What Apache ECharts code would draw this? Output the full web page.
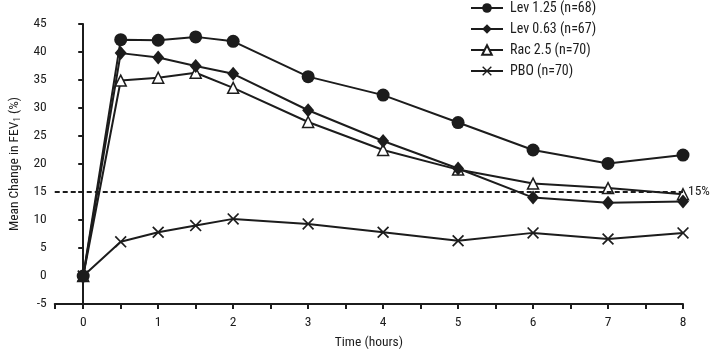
<!DOCTYPE html>
<html>
<head>
<meta charset="utf-8">
<script src="https://cdn.jsdelivr.net/npm/echarts@6/dist/echarts.min.js"></script>
<style>html,body{margin:0;padding:0;background:#fff}#c{width:716px;height:355px}</style>
</head>
<body>
<div id="c"></div>
<script>
const hours = [0, 0.5, 1, 1.5, 2, 3, 4, 5, 6, 7, 8];
const lev125 = [0, 42.2, 42.1, 42.7, 41.9, 35.6, 32.3, 27.4, 22.5, 20.1, 21.6];
const lev063 = [0, 39.8, 39.0, 37.5, 36.1, 29.6, 24.1, 19.2, 14.0, 13.1, 13.3];
const rac25  = [0, 34.9, 35.4, 36.3, 33.6, 27.5, 22.5, 19.0, 16.5, 15.7, 14.6];
const pbo    = [0, 6.1, 7.8, 9.0, 10.2, 9.3, 7.8, 6.3, 7.7, 6.6, 7.7];
const seriesNames = ['Lev 1.25 (n=68)', 'Lev 0.63 (n=67)', 'Rac 2.5 (n=70)', 'PBO (n=70)'];
const yTicks = [-5, 0, 5, 10, 15, 20, 25, 30, 35, 40, 45];
const xLabels = [0, 1, 2, 3, 4, 5, 6, 7, 8];
const xTickVals = [-0.38, 0, 0.5, 1, 1.5, 2, 2.5, 3, 3.5, 4, 4.5, 5, 5.5, 6, 6.5, 7, 7.5, 8];
const threshold = 15;

const FONT = '"Roboto Condensed", "DejaVu Sans Condensed", sans-serif';
const INK = '#1c1c1c';
const crossPath = 'path://M0,1 L1,0 L5,4 L9,0 L10,1 L6,5 L10,9 L9,10 L5,6 L1,10 L0,9 L4,5 Z';

function pairs(arr){ return hours.map((h,i)=>[h, arr[i]]); }

const chart = echarts.init(document.getElementById('c'), null, {renderer:'canvas'});
const base = {
  type: 'line',
  lineStyle: {color: INK, width: 2},
  emphasis: {disabled: true},
  animation: false,
  z: 3
};
chart.setOption({
  animation: false,
  backgroundColor: '#fff',
  textStyle: {fontFamily: FONT},
  grid: {left: 49, right: 33, top: 24, bottom: 47, containLabel: false},
  legend: {
    orient: 'vertical',
    left: 465,
    top: -4,
    itemWidth: 32,
    itemHeight: 12,
    itemGap: 7,
    textStyle: {fontFamily: FONT, fontSize: 14, color: INK, padding: [0,0,0,2]},
    data: seriesNames
  },
  xAxis: {
    type: 'value',
    min: -0.38,
    max: 8,
    splitLine: {show: false},
    axisLine: {onZero: false, lineStyle: {color: INK, width: 2}},
    axisTick: {customValues: xTickVals, length: 5, lineStyle: {color: INK, width: 2}},
    axisLabel: {customValues: xLabels, color: INK, fontSize: 13.5, fontFamily: FONT, margin: 12},
    name: 'Time (hours)',
    nameLocation: 'middle',
    nameGap: 32,
    nameTextStyle: {color: INK, fontSize: 13.5, fontFamily: FONT}
  },
  yAxis: {
    type: 'value',
    min: -5,
    max: 45,
    interval: 5,
    splitLine: {show: false},
    axisLine: {show: true, lineStyle: {color: INK, width: 2}},
    axisTick: {show: true, length: 5, lineStyle: {color: INK, width: 2}},
    axisLabel: {color: INK, fontSize: 13.5, fontFamily: FONT, margin: 8},
    name: '{a|Mean Change in FEV}{s|1}{a| (%)}',
    nameLocation: 'middle',
    nameGap: 30,
    nameTextStyle: {
      rich: {
        a: {fontSize: 13.5, fontFamily: FONT, color: INK},
        s: {fontSize: 9, fontFamily: FONT, color: INK, verticalAlign: 'bottom', padding: [6,0,0,0]}
      }
    }
  },
  series: [
    Object.assign({}, base, {
      name: seriesNames[3], data: pairs(pbo),
      symbol: crossPath, symbolSize: 12,
      itemStyle: {color: INK}
    }),
    Object.assign({}, base, {
      name: seriesNames[2], data: pairs(rac25),
      symbol: 'triangle', symbolSize: 11,
      itemStyle: {color: '#fff', borderColor: INK, borderWidth: 1.5},
      markLine: {
        silent: true, symbol: 'none', animation: false,
        lineStyle: {color: INK, type: [5, 3], width: 2},
        label: {show: true, position: 'end', formatter: '15%', color: INK, fontSize: 13.5, fontFamily: FONT, distance: 5},
        data: [{yAxis: threshold}]
      }
    }),
    Object.assign({}, base, {
      name: seriesNames[1], data: pairs(lev063),
      symbol: 'diamond', symbolSize: [12, 14],
      itemStyle: {color: INK}
    }),
    Object.assign({}, base, {
      name: seriesNames[0], data: pairs(lev125),
      symbol: 'circle', symbolSize: 13,
      itemStyle: {color: INK}
    })
  ]
});
</script>
</body>
</html>
